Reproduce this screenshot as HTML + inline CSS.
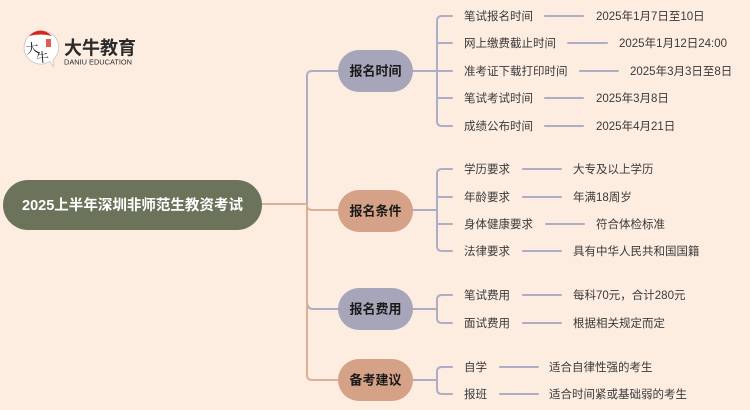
<!DOCTYPE html>
<html><head><meta charset="utf-8">
<style>
html,body{margin:0;padding:0;}
body{width:750px;height:410px;background:#fdede1;overflow:hidden;}
svg{display:block;}
text{font-family:"Liberation Sans","Noto Sans CJK SC",sans-serif;}
.c{font-size:11.5px;fill:#3a3a3a;}
.n{font-size:13px;font-weight:bold;fill:#1a1a1a;}
</style></head><body>
<svg width="750" height="410" viewBox="0 0 750 410" xmlns="http://www.w3.org/2000/svg">
<rect width="750" height="410" fill="#fdede1"/>
<!-- logo -->
<g>
<path d="M40.5,31 a16.5,16.5 0 1 0 9,30.4 l4,5 l-0.5,-6.5 a16.5,16.5 0 0 0 -12.5,-28.9z" fill="#fff" stroke="#c9c4c0" stroke-width="0.8"/>
<path d="M29,36 Q40.5,25 52,36 Q40.5,33 29,36z" fill="#d8261d"/>
<rect x="46" y="39" width="5" height="8" fill="#d8261d" opacity="0.75"/>
<text x="26" y="53" font-size="13" fill="#111" transform="rotate(-8 32 50)" style="font-family:'Noto Serif CJK SC',serif">大</text>
<text x="36" y="62" font-size="13" fill="#111" transform="rotate(-5 42 58)" style="font-family:'Noto Serif CJK SC',serif">牛</text>
<text x="64" y="54.5" font-size="18.5" font-weight="bold" fill="#2b2b2b" textLength="72" lengthAdjust="spacingAndGlyphs">大牛教育</text>
<text x="64" y="64.5" font-size="7.2" fill="#2b2b2b" textLength="68" lengthAdjust="spacingAndGlyphs">DANIU EDUCATION</text>
</g>

<!-- trunk connectors -->
<g fill="none" stroke-width="2" stroke-linecap="round">
<path d="M307,204 V76 Q307,71 312,71 H338" stroke="#adadc6"/>
<path d="M307,301 Q307,309 313,309 H338" stroke="#adadc6"/>
<path d="M262,204 H307" stroke="#ddb096"/>
<path d="M307,204 V375 Q307,380 312,380 H338" stroke="#ddb096"/>
<path d="M307,205 Q307,210 312,210 H338" stroke="#ddb096"/>
</g>

<!-- child connectors -->
<g fill="none" stroke="#adadc6" stroke-width="2" stroke-linecap="round">
<path d="M413,71 H437"/>
<path d="M452,16 H442 Q437,16 437,21 V121 Q437,126 442,126 H452"/>
<path d="M437,43 H452 M437,71 H452 M437,98 H452"/>
<path d="M545,16 H583 M568,43 H607 M580,71 H618 M545,98 H583 M545,126 H583"/>

<path d="M413,210 H437"/>
<path d="M452,169 H442 Q437,169 437,174 V246 Q437,251 442,251 H452"/>
<path d="M437,197 H452 M437,224 H452"/>
<path d="M523,169 H561 M523,197 H561 M546,224 H584 M523,251 H561"/>

<path d="M413,309 H437"/>
<path d="M452,295 H442 Q437,295 437,300 V318 Q437,323 442,323 H452"/>
<path d="M523,295 H561 M523,323 H561"/>

<path d="M413,380 H437"/>
<path d="M452,367 H442 Q437,367 437,372 V389 Q437,394 442,394 H452"/>
<path d="M500,367 H538 M500,394 H538"/>
</g>

<!-- root -->
<rect x="3" y="180" width="259" height="50" rx="25" fill="#6b735a"/>
<text x="132.5" y="210" text-anchor="middle" font-size="14.5" font-weight="bold" fill="#fff" textLength="221" lengthAdjust="spacingAndGlyphs">2025上半年深圳非师范生教资考试</text>

<!-- level 1 -->
<rect x="338" y="50" width="75" height="42" rx="21" fill="#a6a5b9"/>
<text class="n" x="375.5" y="75.5" text-anchor="middle">报名时间</text>
<rect x="338" y="190" width="75" height="42" rx="21" fill="#d5a287"/>
<text class="n" x="375.5" y="215.5" text-anchor="middle">报名条件</text>
<rect x="338" y="288" width="75" height="42" rx="21" fill="#a6a5b9"/>
<text class="n" x="375.5" y="313.5" text-anchor="middle">报名费用</text>
<rect x="338" y="359" width="75" height="42" rx="21" fill="#d5a287"/>
<text class="n" x="375.5" y="384.5" text-anchor="middle">备考建议</text>

<!-- children -->
<text class="c" x="464" y="20">笔试报名时间</text>
<text class="c" x="596" y="20">2025年1月7日至10日</text>
<text class="c" x="464" y="47">网上缴费截止时间</text>
<text class="c" x="619" y="47">2025年1月12日24:00</text>
<text class="c" x="464" y="75">准考证下载打印时间</text>
<text class="c" x="630" y="75">2025年3月3日至8日</text>
<text class="c" x="464" y="102">笔试考试时间</text>
<text class="c" x="596" y="102">2025年3月8日</text>
<text class="c" x="464" y="130">成绩公布时间</text>
<text class="c" x="596" y="130">2025年4月21日</text>

<text class="c" x="464" y="173">学历要求</text>
<text class="c" x="573" y="173">大专及以上学历</text>
<text class="c" x="464" y="201">年龄要求</text>
<text class="c" x="573" y="201">年满18周岁</text>
<text class="c" x="464" y="228">身体健康要求</text>
<text class="c" x="596" y="228">符合体检标准</text>
<text class="c" x="464" y="255">法律要求</text>
<text class="c" x="573" y="255">具有中华人民共和国国籍</text>

<text class="c" x="464" y="299">笔试费用</text>
<text class="c" x="573" y="299">每科70元，合计280元</text>
<text class="c" x="464" y="327">面试费用</text>
<text class="c" x="573" y="327">根据相关规定而定</text>

<text class="c" x="464" y="371">自学</text>
<text class="c" x="549" y="371">适合自律性强的考生</text>
<text class="c" x="464" y="398">报班</text>
<text class="c" x="549" y="398">适合时间紧或基础弱的考生</text>
</svg>
</body></html>
